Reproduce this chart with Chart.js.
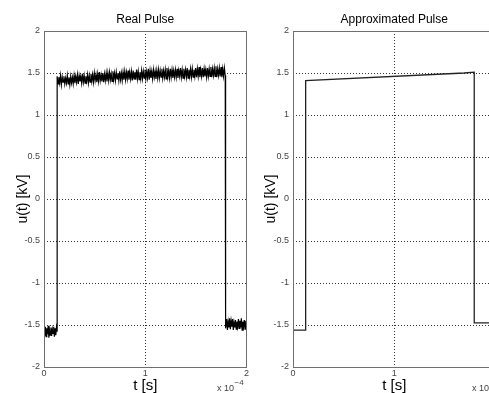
<!DOCTYPE html>
<html>
<head>
<meta charset="utf-8">
<script src="https://cdn.jsdelivr.net/npm/chart.js@4.4.0/dist/chart.umd.min.js"></script>
<style>
html,body{margin:0;padding:0;background:#fff;overflow:hidden;width:489px;height:393px;}
#wrap{position:relative;width:489px;height:393px;overflow:hidden;}
canvas{position:absolute;top:0;}
#c1{left:0;}
#c2{left:249px;}
</style>
</head>
<body>
<div id="wrap">
<canvas id="c1" width="250" height="393"></canvas>
<canvas id="c2" width="250" height="393"></canvas>
</div>
<script>
// Time axis in units of 1e-4 s
const xTicks = [0, 1, 2];
const yTicks = [-2, -1.5, -1, -0.5, 0, 0.5, 1, 1.5, 2];

// Real pulse: segment boundary times (x 1e-4 s)
const realSegTimes = [0, 0.13, 1.79, 2.0];
// Samples: low level before rise
const realLowStart = [-1.55,-1.63,-1.52,-1.64,-1.54,-1.61,-1.51,-1.65,-1.56,-1.62,-1.53,-1.63,-1.55,-1.60,-1.52,-1.64,-1.54,-1.62,-1.53,-1.58];
// Plateau samples
const realPlateau = [
 1.46,1.37,1.45,1.38,1.47,1.36,1.45,1.39,1.46,1.37,1.44,1.38,1.47,1.37,1.45,1.36,1.46,1.38,1.45,1.37,
 1.47,1.38,1.46,1.39,1.48,1.37,1.47,1.40,1.46,1.38,1.49,1.39,1.47,1.38,1.46,1.40,1.48,1.38,1.47,1.39,
 1.49,1.40,1.48,1.39,1.50,1.41,1.48,1.39,1.49,1.40,1.51,1.41,1.48,1.40,1.50,1.39,1.49,1.41,1.50,1.40,
 1.50,1.41,1.51,1.42,1.49,1.40,1.52,1.42,1.50,1.41,1.51,1.43,1.50,1.41,1.52,1.42,1.50,1.41,1.51,1.42,
 1.52,1.42,1.51,1.43,1.53,1.42,1.51,1.43,1.52,1.41,1.53,1.43,1.51,1.42,1.54,1.43,1.52,1.42,1.51,1.43,
 1.53,1.43,1.52,1.44,1.54,1.43,1.52,1.44,1.55,1.42,1.53,1.44,1.52,1.43,1.54,1.45,1.52,1.43,1.53,1.44,
 1.54,1.44,1.53,1.45,1.55,1.44,1.53,1.45,1.54,1.43,1.56,1.45,1.53,1.44,1.55,1.45,1.54,1.44,1.53,1.45,
 1.54,1.45,1.55,1.44,1.53,1.46,1.56,1.45,1.54,1.44,1.55,1.46,1.54,1.45,1.56,1.44,1.54,1.46,1.55,1.45,
 1.55,1.45,1.54,1.46,1.56,1.45,1.55,1.46,1.57,1.45,1.54,1.46,1.56,1.45,1.55,1.46,1.54,1.45,1.56,1.46,
 1.55,1.46,1.57,1.45,1.55,1.47,1.56,1.46,1.58,1.45,1.55,1.47,1.56,1.46,1.57,1.45,1.55,1.46,1.56,1.47
];
// Low level after fall
const realLowEnd = [-1.44,-1.54,-1.43,-1.56,-1.46,-1.53,-1.42,-1.55,-1.45,-1.52,-1.43,-1.56,-1.47,-1.53,-1.44,-1.55,-1.46,-1.52,-1.43,-1.54,
 -1.45,-1.53,-1.42,-1.56,-1.46,-1.52,-1.44,-1.55,-1.45,-1.50];

// Approximated pulse vertices
const approxT = [0, 0.125, 0.125, 1.69, 1.79, 1.79, 2.0];
const approxU = [-1.56, -1.56, 1.41, 1.50, 1.51, -1.475, -1.475];

function segmentPoints(vals, t0, t1) {
  const n = vals.length;
  return vals.map((v, i) => ({ x: t0 + (t1 - t0) * (n === 1 ? 0 : i / (n - 1)), y: v }));
}
const realPoints = [].concat(
  segmentPoints(realLowStart, realSegTimes[0], realSegTimes[1]),
  segmentPoints(realPlateau, realSegTimes[1], realSegTimes[2]),
  segmentPoints(realLowEnd, realSegTimes[2], realSegTimes[3])
);
const approxPoints = approxT.map((t, i) => ({ x: t, y: approxU[i] }));

const FONT = "'Liberation Sans', Arial, sans-serif";

const decorPlugin = {
  id: 'decor',
  afterDraw(chart, args, opts) {
    const ctx = chart.ctx;
    const a = chart.chartArea;
    ctx.save();
    // frame
    ctx.strokeStyle = '#6e6e6e';
    ctx.lineWidth = 1;
    ctx.setLineDash([]);
    ctx.strokeRect(Math.round(a.left) + 0.5, Math.round(a.top) + 0.5, Math.round(a.right - a.left), Math.round(a.bottom - a.top));
    // title
    ctx.fillStyle = '#000';
    ctx.font = '12px ' + FONT;
    ctx.textAlign = 'center';
    ctx.textBaseline = 'alphabetic';
    ctx.fillText(opts.title, (a.left + a.right) / 2, 23);
    // x label
    ctx.font = '15px ' + FONT;
    ctx.fillText('t [s]', (a.left + a.right) / 2, 390);
    // y label
    ctx.save();
    ctx.translate(opts.yLabelX, (a.top + a.bottom) / 2);
    ctx.rotate(-Math.PI / 2);
    ctx.font = '14px ' + FONT;
    ctx.textBaseline = 'middle';
    ctx.fillText('u(t) [kV]', 0, 0);
    ctx.restore();
    // multiplier
    ctx.fillStyle = '#444';
    ctx.textAlign = 'left';
    ctx.font = '9px ' + FONT;
    ctx.fillText('x 10', opts.multX, 391);
    const w = ctx.measureText('x 10').width;
    ctx.font = '8px ' + FONT;
    ctx.fillText('\u22124', opts.multX + w + 0.5, 385);
    ctx.restore();
  }
};

function makeOptions(title, yLabelX, multX) {
  return {
    responsive: false,
    animation: false,
    devicePixelRatio: 1,
    layout: { padding: { top: 31, right: 3, left: 0, bottom: 0 } },
    plugins: {
      legend: { display: false },
      tooltip: { enabled: false },
      decor: { title, yLabelX, multX }
    },
    elements: { point: { radius: 0 } },
    scales: {
      x: {
        type: 'linear',
        min: 0, max: 2,
        afterBuildTicks: s => { s.ticks = xTicks.map(v => ({ value: v })); },
        afterFit: s => { s.height = 26; },
        ticks: { color: '#444', font: { size: 9, family: FONT }, padding: 1, maxRotation: 0,
                 callback: v => String(v) },
        grid: {
          drawTicks: false,
          color: ctx => (ctx.tick && (ctx.tick.value === 0 || ctx.tick.value === 2)) ? 'rgba(0,0,0,0)' : '#333',
          lineWidth: 1
        },
        border: { display: false, dash: [1, 2] }
      },
      y: {
        type: 'linear',
        min: -2, max: 2,
        afterBuildTicks: s => { s.ticks = yTicks.map(v => ({ value: v })); },
        afterFit: s => { s.width = 44; },
        ticks: { color: '#444', font: { size: 9, family: FONT }, padding: 4,
                 callback: v => String(v) },
        grid: {
          drawTicks: false,
          color: ctx => (ctx.tick && (ctx.tick.value === -2 || ctx.tick.value === 2)) ? 'rgba(0,0,0,0)' : '#333',
          lineWidth: 1
        },
        border: { display: false, dash: [1, 2] }
      }
    }
  };
}

new Chart(document.getElementById('c1'), {
  type: 'line',
  data: { datasets: [{ data: realPoints, borderColor: '#000', borderWidth: 1.2, tension: 0, fill: false }] },
  options: makeOptions('Real Pulse', 23, 217),
  plugins: [decorPlugin]
});

new Chart(document.getElementById('c2'), {
  type: 'line',
  data: { datasets: [{ data: approxPoints, borderColor: '#222', borderWidth: 1.3, tension: 0, fill: false }] },
  options: makeOptions('Approximated Pulse', 22, 223),
  plugins: [decorPlugin]
});
</script>
</body>
</html>
